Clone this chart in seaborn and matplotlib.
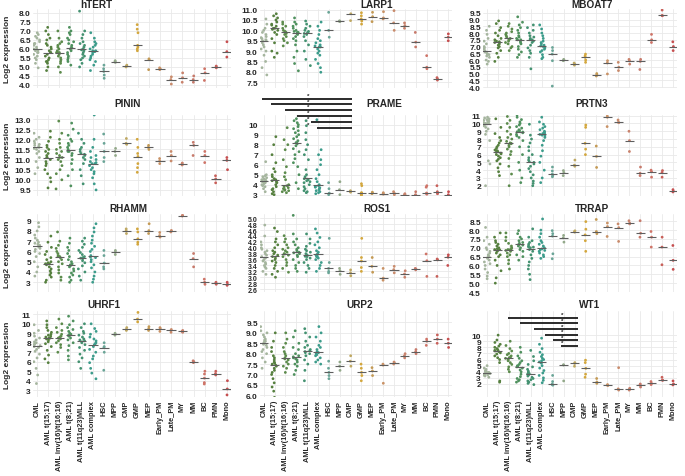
import numpy as np
import pandas as pd
import matplotlib
matplotlib.use("Agg")
import matplotlib.pyplot as plt
from matplotlib.ticker import FormatStrFormatter
import seaborn as sns

groups = ["CML", "AML t(15;17)", "AML inv(16)/t(16;16)", "AML t(8;21)", "AML t(11q23)MLL",
          "AML complex", "HSC", "MPP", "CMP", "GMP", "MEP", "Early_PM", "Late_PM", "MY",
          "MM", "BC", "PMN", "Mono"]
colors = ["#a5b59e", "#56803f", "#5c8b4c", "#4f915e", "#449271", "#3c9c8b", "#6aa597",
          "#93a98a", "#bfa862", "#d3a73e", "#c49a55", "#c99266", "#c98b6c", "#c9826c",
          "#c77a6b", "#cf7468", "#c8605a", "#c64f50"]

htert = [
    [6.9, 6.8, 6.7, 6.6, 6.5, 6.4, 6.3, 6.3, 6.2, 6.1, 6.0, 6.0, 5.9, 5.9, 5.8, 5.8, 5.7, 5.6, 5.5, 5.4, 5.2, 4.95],
    [7.2, 7.0, 6.8, 6.6, 6.5, 6.3, 6.2, 6.1, 6.0, 5.9, 5.8, 5.8, 5.7, 5.6, 5.5, 5.4, 5.3, 5.3, 5.2, 5.0, 4.8],
    [7.0, 6.6, 6.4, 6.3, 6.2, 6.1, 6.0, 5.9, 5.85, 5.8, 5.8, 5.7, 5.6, 5.5, 5.4, 5.3, 5.2, 5.0, 4.7],
    [7.2, 7.0, 6.9, 6.8, 6.6, 6.5, 6.4, 6.3, 6.2, 6.1, 6.05, 6.0, 5.9, 5.8, 5.7, 5.6, 5.5, 5.4, 5.3, 5.1],
    [8.1, 7.0, 6.8, 6.6, 6.4, 6.3, 6.2, 6.1, 6.0, 5.95, 5.9, 5.8, 5.7, 5.6, 5.5, 5.4, 5.2, 5.0],
    [6.9, 6.6, 6.4, 6.3, 6.2, 6.1, 6.0, 5.9, 5.9, 5.85, 5.8, 5.7, 5.6, 5.5, 5.4, 5.3, 5.1, 4.8],
    [5.1, 4.9, 4.75, 4.55, 4.37], [5.35, 5.3, 5.25], [5.1, 5.04, 5.0],
    [7.35, 7.1, 6.9, 6.2, 6.1, 6.0, 5.9], [5.45, 5.4, 4.85], [4.95, 4.9, 4.85],
    [4.45, 4.3, 4.05], [4.67, 4.4, 4.15], [4.5, 4.3, 4.15], [4.9, 4.67, 4.25],
    [5.05, 5.0, 4.95], [6.4, 5.85, 5.55],
]
larp1 = [
    [10.55, 10.3, 10.1, 10.0, 9.9, 9.8, 9.7, 9.65, 9.6, 9.55, 9.5, 9.5, 9.4, 9.3, 9.2, 9.1, 9.0, 8.8, 8.5, 8.2, 7.85],
    [10.8, 10.7, 10.6, 10.5, 10.4, 10.3, 10.25, 10.2, 10.1, 10.1, 10.05, 10.0, 9.9, 9.8, 9.6, 9.4, 9.0, 8.9, 8.7],
    [10.4, 10.3, 10.2, 10.1, 10.0, 9.95, 9.9, 9.9, 9.85, 9.8, 9.7, 9.6, 9.5, 9.4, 9.25],
    [10.6, 10.4, 10.3, 10.2, 10.1, 10.0, 9.95, 9.9, 9.9, 9.85, 9.8, 9.7, 9.6, 9.5, 9.3, 9.0, 8.7, 8.4, 8.05],
    [10.45, 10.3, 10.2, 10.1, 10.0, 9.95, 9.9, 9.9, 9.85, 9.8, 9.7, 9.5, 9.3, 9.0, 8.6, 8.3],
    [10.4, 10.2, 10.0, 9.8, 9.6, 9.5, 9.4, 9.3, 9.25, 9.2, 9.2, 9.1, 9.0, 8.9, 8.8, 8.6, 8.4, 8.2, 7.98],
    [10.87, 10.0, 9.67], [10.46, 10.44, 10.42], [11.1, 10.8, 10.47],
    [10.85, 10.7, 10.55, 10.45, 10.3], [10.87, 10.66, 10.42], [10.9, 10.6, 10.55],
    [10.95, 10.36, 10.0], [10.36, 10.23, 10.1], [9.9, 9.43, 9.2], [8.78, 8.22, 8.15],
    [7.72, 7.66, 7.6], [9.83, 9.67, 9.5],
]
mboat7 = [
    [8.5, 8.2, 7.9, 7.6, 7.4, 7.2, 7.0, 6.9, 6.8, 6.7, 6.6, 6.5, 6.45, 6.4, 6.3, 6.2, 6.0, 5.9, 5.7],
    [8.9, 8.7, 8.4, 8.2, 8.0, 7.8, 7.6, 7.5, 7.4, 7.35, 7.3, 7.2, 7.1, 7.0, 6.9, 6.7, 6.5, 6.2, 5.9],
    [8.7, 8.5, 8.3, 8.1, 8.0, 7.9, 7.8, 7.7, 7.6, 7.55, 7.5, 7.4, 7.3, 7.2, 7.0, 6.9, 6.7],
    [9.2, 8.8, 8.6, 8.4, 8.2, 8.0, 7.8, 7.7, 7.6, 7.5, 7.5, 7.4, 7.3, 7.2, 7.0, 6.8, 6.6, 6.4, 6.2],
    [8.6, 8.4, 8.2, 8.0, 7.8, 7.7, 7.6, 7.5, 7.5, 7.4, 7.3, 7.1, 6.9, 6.7, 6.5, 6.2, 5.35],
    [8.6, 8.3, 8.0, 7.8, 7.6, 7.4, 7.3, 7.2, 7.1, 7.05, 7.0, 6.9, 6.8, 6.7, 6.6, 6.4, 6.2, 6.1],
    [6.93, 6.7, 6.44, 5.95, 4.07], [6.05, 6.0, 5.95], [5.78, 5.7, 5.62],
    [6.44, 6.3, 6.2, 6.0, 5.83], [5.0, 4.9, 4.82], [5.95, 5.78, 4.97],
    [5.83, 5.47, 5.22], [6.05, 5.95, 5.7], [6.05, 5.9, 5.3], [7.9, 7.5, 7.3],
    [9.7, 9.3, 9.28], [7.35, 7.0, 6.7],
]
pinin = [
    [12.3, 12.1, 12.0, 11.9, 11.8, 11.75, 11.7, 11.65, 11.6, 11.55, 11.5, 11.4, 11.3, 11.1, 10.9, 10.6, 10.3],
    [12.4, 12.1, 11.9, 11.7, 11.6, 11.5, 11.4, 11.3, 11.2, 11.1, 11.1, 11.0, 10.9, 10.8, 10.7, 10.5, 10.3, 10.1, 9.9, 9.6],
    [12.9, 12.3, 12.0, 11.8, 11.6, 11.5, 11.4, 11.3, 11.2, 11.1, 11.1, 11.0, 10.9, 10.7, 10.5, 10.3, 10.0, 9.55],
    [12.8, 12.5, 12.2, 12.0, 11.9, 11.8, 11.7, 11.6, 11.5, 11.4, 11.4, 11.3, 11.2, 11.0, 10.8, 10.5, 10.2, 9.7],
    [12.3, 12.0, 11.8, 11.6, 11.5, 11.4, 11.3, 11.26, 11.2, 11.1, 11.0, 10.8, 10.5, 10.2, 9.8],
    [13.2, 12.0, 11.6, 11.4, 11.2, 11.1, 11.0, 10.9, 10.85, 10.8, 10.8, 10.7, 10.6, 10.5, 10.4, 10.3, 10.1, 9.8, 9.5],
    [12.26, 11.8, 11.4, 11.1, 10.9], [11.55, 11.4, 11.2], [12.04, 11.8, 11.75],
    [12.0, 11.6, 11.3, 11.15, 10.8, 10.6, 10.37], [11.7, 11.6, 11.5], [11.05, 10.93, 10.8],
    [11.4, 11.2, 10.93], [10.83, 10.78, 10.73], [11.85, 11.7, 11.2], [11.4, 11.2, 10.85],
    [10.2, 10.04, 9.85], [11.1, 10.96, 10.5],
]
prame = [
    [6.3, 5.0, 4.9, 4.8, 4.7, 4.6, 4.5, 4.5, 4.4, 4.4, 4.35, 4.3, 4.3, 4.2, 4.2, 4.1, 4.0, 3.9, 3.8, 3.6, 3.3],
    [8.8, 8.0, 7.0, 6.2, 5.6, 5.3, 5.0, 4.8, 4.6, 4.5, 4.4, 4.3, 4.2, 4.0, 3.8, 3.6, 3.5, 3.3, 3.1, 3.0],
    [9.7, 8.5, 8.0, 7.5, 6.5, 5.8, 5.2, 4.8, 4.5, 4.0, 3.9, 3.8, 3.7, 3.6, 3.5, 3.45, 3.4, 3.3, 3.2],
    [10.6, 10.4, 10.2, 10.0, 9.8, 9.6, 9.4, 9.2, 9.0, 8.8, 8.6, 8.4, 8.2, 8.2, 8.1, 7.9, 7.6, 7.3, 7.0, 6.6, 6.2, 5.8, 5.0, 4.2, 3.6],
    [10.4, 9.9, 9.2, 8.5, 8.0, 7.5, 7.0, 6.5, 5.5, 5.0, 4.8, 4.6, 4.5, 4.4, 4.3, 4.2, 4.0, 3.8, 3.6, 3.4, 3.3, 3.2],
    [10.5, 7.5, 7.0, 6.5, 6.0, 5.5, 5.0, 4.6, 4.3, 4.0, 3.9, 3.8, 3.75, 3.7, 3.6, 3.5, 3.4, 3.3, 3.2, 3.1],
    [4.2, 3.6, 3.15, 3.1, 3.0], [4.3, 3.5, 3.0], [3.4, 3.33, 3.25],
    [4.1, 3.9, 3.2, 3.17, 3.1, 3.0, 2.95], [3.25, 3.17, 3.1], [3.2, 3.1, 3.05],
    [3.3, 3.17, 3.0], [3.1, 3.0, 2.95], [3.3, 3.0, 2.95], [3.9, 3.75, 3.17, 3.1, 3.05],
    [3.9, 3.3, 3.15, 3.1], [3.3, 3.0, 2.9],
]
prtn3 = [
    [10.8, 10.7, 10.6, 10.5, 10.4, 10.3, 10.3, 10.2, 10.1, 10.05, 10.0, 10.0, 9.95, 9.9, 9.8, 9.7, 9.5, 9.3, 9.0, 8.6, 7.8, 5.2, 4.8, 2.0],
    [10.6, 9.5, 8.7, 8.2, 7.8, 7.5, 7.2, 7.0, 6.8, 6.6, 6.5, 6.4, 6.3, 6.2, 6.1, 6.0, 5.8, 5.6, 5.4, 5.2, 4.8, 4.3, 3.8, 3.3],
    [10.9, 10.4, 10.0, 9.5, 9.0, 8.6, 8.2, 8.0, 7.7, 7.5, 7.45, 7.4, 7.2, 7.0, 6.7, 6.4, 6.0, 5.5, 4.5, 3.5, 2.0],
    [11.1, 10.8, 10.5, 10.2, 10.0, 9.8, 9.6, 9.4, 9.2, 9.1, 9.0, 8.95, 8.9, 8.8, 8.6, 8.4, 8.2, 7.8, 7.0, 6.0, 5.0, 4.0, 3.0, 2.4],
    [9.9, 8.5, 8.0, 7.5, 7.0, 6.5, 6.0, 5.6, 5.3, 5.1, 5.0, 4.8, 4.5, 4.2, 3.8, 3.4, 3.0, 2.6, 2.3, 2.0],
    [11.5, 10.8, 10.2, 9.9, 9.6, 9.4, 9.2, 9.0, 8.9, 8.8, 8.7, 8.65, 8.6, 8.5, 8.4, 8.2, 7.8, 7.2, 6.5, 5.8, 5.0, 4.0, 3.0, 2.4],
    [4.4, 3.9, 3.5, 3.3, 3.15], [3.95, 3.7, 3.3], [5.3, 4.65, 4.5],
    [9.8, 9.5, 7.45, 6.7, 6.0], [7.1, 5.77, 4.35], [10.95, 10.8, 9.6],
    [10.45, 10.15, 10.1], [9.0, 7.8, 6.4], [4.4, 3.6, 3.3], [4.0, 3.8, 3.1],
    [3.95, 3.7, 3.1], [1.5, 1.3, 1.2],
]
rhamm = [
    [8.8, 8.4, 8.0, 7.6, 7.3, 7.1, 6.9, 6.8, 6.7, 6.6, 6.5, 6.4, 6.3, 6.2, 6.0, 5.8, 5.5, 5.0, 4.5, 4.0, 3.6],
    [7.5, 6.9, 6.4, 6.0, 5.7, 5.4, 5.2, 5.0, 4.9, 4.8, 4.8, 4.7, 4.5, 4.3, 4.1, 3.9, 3.7, 3.5, 3.2, 3.0],
    [7.9, 7.0, 6.6, 6.3, 6.0, 5.8, 5.6, 5.5, 5.5, 5.4, 5.2, 5.0, 4.8, 4.5, 4.2, 3.9, 3.5, 3.2],
    [7.3, 6.8, 6.4, 6.1, 5.8, 5.5, 5.2, 5.0, 4.8, 4.7, 4.6, 4.5, 4.3, 4.1, 3.9, 3.7, 3.5, 3.2, 3.0],
    [7.3, 7.0, 6.7, 6.4, 6.1, 5.9, 5.7, 5.5, 5.4, 5.35, 5.3, 5.1, 4.9, 4.6, 4.3, 4.0, 3.6, 3.2],
    [8.7, 8.3, 7.9, 7.5, 7.1, 6.8, 6.5, 6.2, 6.0, 5.6, 5.45, 5.4, 5.2, 5.0, 4.7, 4.4, 4.0, 3.6, 3.3, 3.0],
    [6.1, 5.6, 4.87, 4.5, 4.3], [6.1, 5.93, 5.7], [8.2, 8.03, 7.75],
    [8.2, 7.9, 7.23, 6.9, 6.7], [8.7, 8.03, 7.75], [7.85, 7.55, 7.4],
    [8.05, 7.97, 7.9], [9.52, 9.48, 9.45], [5.8, 5.3, 4.5], [3.3, 3.0, 2.8],
    [3.0, 2.9, 2.8], [3.0, 2.8, 2.7],
]
ros1 = [
    [4.77, 4.4, 4.2, 4.1, 4.0, 3.95, 3.9, 3.85, 3.8, 3.75, 3.7, 3.65, 3.6, 3.55, 3.5, 3.45, 3.4, 3.35, 3.3, 3.2, 3.1],
    [4.67, 4.55, 4.3, 4.2, 4.1, 4.0, 3.9, 3.85, 3.8, 3.75, 3.7, 3.65, 3.6, 3.55, 3.5, 3.4, 3.3, 3.2, 3.1, 3.0],
    [4.41, 4.3, 4.2, 4.1, 4.0, 3.95, 3.9, 3.85, 3.8, 3.79, 3.75, 3.7, 3.6, 3.5, 3.4, 3.3, 3.17],
    [5.1, 4.47, 4.3, 4.2, 4.1, 4.0, 3.95, 3.9, 3.85, 3.83, 3.8, 3.75, 3.7, 3.6, 3.5, 3.4, 3.3, 3.2],
    [4.47, 4.3, 4.15, 4.05, 3.95, 3.9, 3.85, 3.8, 3.75, 3.71, 3.7, 3.65, 3.6, 3.5, 3.4, 3.3, 3.17],
    [4.64, 4.5, 4.35, 4.2, 4.1, 4.0, 3.9, 3.85, 3.8, 3.75, 3.71, 3.7, 3.65, 3.6, 3.5, 3.4, 3.3, 3.2],
    [4.32, 3.5, 3.3, 3.2, 3.15], [3.3, 3.22, 3.1], [3.25, 3.15, 3.05],
    [4.32, 3.67, 3.55, 3.33, 3.2], [3.67, 3.37, 3.17], [3.3, 2.97, 2.9],
    [3.37, 3.26, 3.15], [3.22, 3.11, 3.0], [3.3, 3.28, 3.25], [3.79, 3.56, 3.03],
    [3.62, 3.59, 3.03], [3.76, 3.68, 3.4],
]
trrap = [
    [8.15, 7.6, 7.4, 7.2, 7.0, 6.9, 6.8, 6.7, 6.6, 6.55, 6.5, 6.45, 6.4, 6.3, 6.2, 6.1, 6.0, 5.8, 5.6, 5.4, 5.25],
    [7.84, 7.6, 7.4, 7.3, 7.2, 7.1, 7.0, 6.95, 6.9, 6.89, 6.85, 6.8, 6.7, 6.6, 6.5, 6.3, 6.0, 5.7, 5.3, 5.0],
    [7.84, 7.6, 7.4, 7.25, 7.1, 7.0, 6.95, 6.9, 6.89, 6.85, 6.8, 6.7, 6.6, 6.5, 6.3, 6.1, 5.8],
    [7.97, 7.8, 7.6, 7.5, 7.4, 7.3, 7.25, 7.2, 7.19, 7.15, 7.1, 7.0, 6.9, 6.8, 6.6, 6.5, 6.3],
    [8.07, 7.6, 7.4, 7.3, 7.2, 7.1, 7.05, 7.04, 7.0, 6.9, 6.8, 6.6, 6.4, 6.2, 6.0, 5.8, 5.5, 5.2],
    [8.63, 8.0, 7.8, 7.6, 7.4, 7.3, 7.2, 7.1, 7.0, 6.94, 6.9, 6.85, 6.8, 6.7, 6.6, 6.5, 6.4],
    [7.97, 7.8, 7.66, 6.66, 6.38], [7.7, 7.56, 7.32], [7.96, 7.92, 7.88],
    [8.48, 8.05, 7.73, 7.4, 6.8], [8.6, 7.92, 7.8], [8.4, 8.2, 7.64],
    [8.35, 8.14, 7.36], [8.53, 8.39, 8.35], [8.53, 7.82, 7.6], [7.92, 7.6, 7.04],
    [7.6, 7.04, 6.04], [7.13, 6.29, 5.78],
]
uhrf1 = [
    [9.9, 9.3, 9.0, 8.7, 8.5, 8.3, 8.1, 8.0, 7.9, 7.8, 7.7, 7.6, 7.5, 7.3, 7.1, 6.8, 6.4, 6.0, 5.3, 4.6, 3.7],
    [10.3, 9.9, 9.6, 9.3, 9.1, 8.9, 8.8, 8.7, 8.6, 8.5, 8.5, 8.4, 8.3, 8.1, 7.9, 7.6, 7.2, 6.7, 6.3, 5.9],
    [10.5, 10.0, 9.6, 9.3, 9.1, 8.9, 8.7, 8.6, 8.5, 8.5, 8.4, 8.2, 8.0, 7.8, 7.5, 7.0],
    [10.8, 10.3, 9.9, 9.6, 9.4, 9.2, 9.0, 8.9, 8.8, 8.8, 8.7, 8.5, 8.3, 8.0, 7.7, 7.2, 6.6, 6.2],
    [10.0, 9.6, 9.2, 9.0, 8.8, 8.6, 8.4, 8.3, 8.2, 8.1, 8.0, 7.8, 7.5, 7.2, 6.8, 6.4, 6.0, 5.3],
    [10.0, 9.5, 9.2, 8.9, 8.6, 8.4, 8.2, 8.0, 7.9, 7.8, 7.6, 7.3, 7.0, 6.6, 6.3, 5.9, 5.3, 4.8, 4.2],
    [8.0, 7.6, 7.5, 7.0, 5.1], [9.0, 8.9, 8.8], [9.6, 9.4, 9.3],
    [11.2, 10.5, 10.2], [9.7, 9.5, 9.3], [9.6, 9.5, 9.2],
    [9.4, 9.3, 9.1], [9.3, 9.2, 9.1], [6.1, 6.0, 5.9], [5.0, 4.7, 4.27, 3.8, 3.65],
    [5.0, 4.75, 4.6], [4.0, 3.13, 2.5],
]
urp2 = [
    [9.3, 9.1, 9.0, 8.9, 8.8, 8.7, 8.65, 8.6, 8.55, 8.5, 8.45, 8.4, 8.3, 8.2, 8.1, 8.0, 7.8, 7.6, 7.3],
    [9.0, 8.6, 8.3, 8.1, 7.9, 7.8, 7.7, 7.6, 7.55, 7.5, 7.45, 7.4, 7.3, 7.2, 7.1, 7.0, 6.8, 6.6, 6.4, 6.2, 5.9],
    [9.0, 8.7, 8.5, 8.3, 8.1, 8.0, 7.9, 7.8, 7.75, 7.7, 7.6, 7.5, 7.4, 7.3, 7.1],
    [9.1, 8.8, 8.5, 8.3, 8.2, 8.0, 7.9, 7.85, 7.8, 7.75, 7.7, 7.6, 7.5, 7.4, 7.2, 7.0],
    [9.2, 9.0, 8.8, 8.6, 8.4, 8.3, 8.2, 8.15, 8.1, 8.05, 8.0, 7.9, 7.7, 7.5, 7.2, 6.7],
    [9.3, 9.0, 8.8, 8.6, 8.4, 8.3, 8.2, 8.1, 8.05, 8.0, 7.95, 7.9, 7.8, 7.7, 7.6, 7.5],
    [7.64, 7.3, 7.1, 6.95, 6.8], [7.6, 7.4, 7.2], [7.9, 7.64, 7.4],
    [7.5, 7.3, 7.1, 6.95, 6.7], [7.33, 7.17, 6.95], [7.5, 7.45, 6.58],
    [7.6, 7.56, 7.5], [8.0, 7.9, 7.8], [8.2, 8.1, 8.0], [8.7, 8.6, 8.4],
    [8.9, 8.7, 8.5], [8.7, 8.5, 8.3],
]
wt1 = [
    [5.0, 4.6, 4.4, 4.2, 4.1, 4.0, 3.95, 3.9, 3.85, 3.8, 3.75, 3.7, 3.6, 3.5, 3.4, 3.3, 3.1],
    [10.0, 9.2, 8.8, 8.5, 8.2, 8.0, 7.8, 7.6, 7.5, 7.4, 7.3, 7.1, 6.9, 6.6, 6.3, 6.0, 5.5, 2.5, 2.3],
    [9.0, 8.3, 7.8, 7.4, 7.0, 6.8, 6.6, 6.4, 6.3, 6.2, 6.0, 5.8, 5.5, 5.2, 4.8, 4.4, 4.0],
    [8.0, 7.2, 6.6, 6.2, 5.8, 5.5, 5.2, 5.0, 4.9, 4.8, 4.6, 4.3, 4.0, 3.6, 3.2, 2.9, 2.7, 2.5, 2.3],
    [7.5, 6.5, 5.8, 5.2, 4.8, 4.4, 4.1, 3.9, 3.7, 3.6, 3.5, 3.3, 3.1, 2.9, 2.7, 2.5, 2.3, 2.1, 1.9],
    [9.5, 8.5, 7.8, 7.2, 6.8, 6.5, 6.2, 6.0, 5.8, 5.6, 5.4, 5.0, 4.6, 4.2, 3.8, 3.4, 3.0, 2.6, 2.2],
    [3.4, 2.4, 2.0, 1.9, 1.8], [5.15, 5.1, 2.5], [5.5, 5.36, 4.9],
    [5.9, 5.5, 4.56, 3.6, 3.1], [2.9, 2.32, 2.1], [1.9, 1.8, 1.75],
    [4.67, 1.2, 1.0], [1.3, 1.1, 1.0], [2.0, 1.84, 1.5], [2.4, 2.1, 1.9],
    [3.1, 2.64, 2.6], [2.5, 2.0, 1.85],
]

# significance bars (category positions and y levels)
prame_sig_start = [-0.2, 0.7, 1.95, 3.05, 4.35, 4.95]
prame_sig_y = [12.6, 12.05, 11.5, 10.9, 10.3, 9.7]
prame_sig_end, prame_star_x = 8.1, 4.05
wt1_sig_start = [1.9, 3.0, 4.3, 5.3, 6.0, 6.8]
wt1_sig_y = [12.85, 11.93, 11.01, 10.09, 9.17, 8.25]
wt1_sig_end, wt1_star_x = 8.3, 6.9

genes = ["hTERT", "LARP1", "MBOAT7", "PININ", "PRAME", "PRTN3",
         "RHAMM", "ROS1", "TRRAP", "UHRF1", "URP2", "WT1"]
values = [htert, larp1, mboat7, pinin, prame, prtn3, rhamm, ros1, trrap, uhrf1, urp2, wt1]

# layout / styling
ylims = [(3.83, 8.22), (7.22, 11.03), (3.93, 9.78), (9.2, 13.2), (2.87, 10.97), (0.68, 11.09),
         (2.05, 9.65), (2.5, 5.146), (4.53, 8.91), (2.28, 11.35), (5.92, 10.05), (-0.13, 13.95)]
yticks = [(4.0, 8.0, 0.5), (7.5, 11.0, 0.5), (4.0, 9.5, 0.5), (9.5, 13.0, 0.5), (3, 10, 1), (2, 11, 1),
          (3, 9, 1), (2.6, 5.0, 0.2), (4.5, 8.5, 0.5), (3, 11, 1), (6.0, 9.5, 0.5), (2, 10, 1)]
yfmt = ["%.1f", "%.1f", "%.1f", "%.1f", "%d", "%d", "%d", "%.1f", "%.1f", "%d", "%.1f", "%d"]
title_x = [0.32, 0.61, 0.56, 0.48, 0.65, 0.56, 0.48, 0.61, 0.56, 0.36, 0.52, 0.55]
title_pad = [0, 6.5, 2.5, 3]
col_px = [(33, 231), (260, 452), (483, 677)]
row_px = [(10, 89), (116, 197), (215, 293), (312, 398)]
W, H = 685, 477

sns.set_style("whitegrid")
plt.rcParams["font.family"] = ["Liberation Sans", "DejaVu Sans"]
plt.rcParams["font.weight"] = "bold"
np.random.seed(3)

palette = dict(zip(groups, colors))
fig = plt.figure(figsize=(W / 100, H / 100), dpi=100)

for i, (gene, vals) in enumerate(zip(genes, values)):
    r, c = divmod(i, 3)
    x0, x1 = col_px[c]
    t, b = row_px[r]
    ax = fig.add_axes([x0 / W, 1 - b / H, (x1 - x0) / W, (b - t) / H])

    df = pd.DataFrame([(g, v) for g, vs in zip(groups, vals) for v in vs], columns=["group", "value"])
    big = df[df["group"].isin(groups[:6])]
    small = df[~df["group"].isin(groups[:6])]

    sns.stripplot(data=big, x="group", y="value", hue="group", order=groups, hue_order=groups,
                  palette=palette, jitter=0.3, size=2.0, linewidth=0, legend=False, ax=ax, zorder=2)
    sns.stripplot(data=small, x="group", y="value", hue="group", order=groups, hue_order=groups,
                  palette=palette, jitter=0.04, size=2.0, linewidth=0, legend=False, ax=ax, zorder=2)

    med = df.groupby("group")["value"].median().reindex(groups)
    pos = np.arange(len(groups))
    ax.hlines(med.values, pos - 0.42, pos + 0.42, color="#5e5e5e", lw=0.8, zorder=3)

    ax.set_xlim(-0.35, 17.35)
    ax.set_ylim(*ylims[i])
    lo, hi, st = yticks[i]
    ax.set_yticks(np.arange(lo, hi + st / 2, st))
    ax.yaxis.set_major_formatter(FormatStrFormatter(yfmt[i]))
    ax.set_xlabel("")
    ax.set_ylabel("")
    ax.grid(True, color="#e9e9e9", lw=0.6)
    ax.set_axisbelow(True)
    for s in ax.spines.values():
        s.set_visible(False)
    ax.tick_params(axis="y", length=0, pad=1.5, labelsize=5 if gene == "ROS1" else 6)
    if r == 3:
        ax.tick_params(axis="x", length=0, pad=2, labelsize=5.3, labelrotation=90)
    else:
        ax.tick_params(axis="x", length=0, labelbottom=False)
    ax.set_title(gene, x=title_x[i], pad=title_pad[r], fontsize=7.2, fontweight="bold")

    if c == 0:
        fig.text(8 / W, 1 - (t + b) / 2 / H, "Log2 expression", rotation=90,
                 ha="center", va="center", fontsize=6, fontweight="bold")

    if gene in ("PRAME", "WT1"):
        starts = prame_sig_start if gene == "PRAME" else wt1_sig_start
        levels = prame_sig_y if gene == "PRAME" else wt1_sig_y
        end = prame_sig_end if gene == "PRAME" else wt1_sig_end
        sx = prame_star_x if gene == "PRAME" else wt1_star_x
        for s0, yv in zip(starts, levels):
            ax.plot([s0, end], [yv, yv], color="#1a1a1a", lw=1.3, clip_on=False,
                    solid_capstyle="butt", zorder=4)
            ax.annotate("*", (sx, yv), xytext=(0, 0.3), textcoords="offset points",
                        ha="center", va="bottom", fontsize=4.5, annotation_clip=False)

fig.savefig("out.png", dpi=100)
